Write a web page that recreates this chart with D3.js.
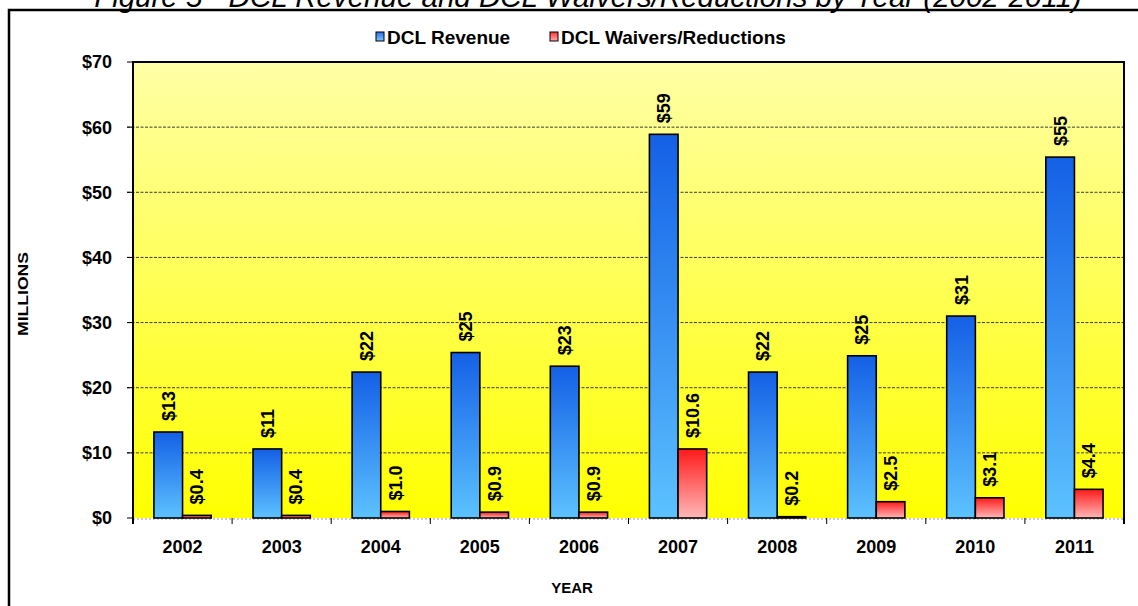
<!DOCTYPE html>
<html>
<head>
<meta charset="utf-8">
<script src="https://cdn.jsdelivr.net/npm/d3@7"></script>
<style>
  html, body { margin: 0; padding: 0; background: #fff; }
  svg { display: block; font-family: Arial, "Liberation Sans", sans-serif; }
</style>
</head>
<body>
<svg id="chart" width="1138" height="606"></svg>
<script>
const years = ["2002","2003","2004","2005","2006","2007","2008","2009","2010","2011"];
const seriesNames = ["DCL Revenue", "DCL Waivers/Reductions"];
const revenue = [13.2, 10.6, 22.4, 25.4, 23.3, 58.9, 22.4, 24.9, 31.0, 55.4];
const waivers = [0.4, 0.4, 1.0, 0.9, 0.9, 10.6, 0.2, 2.5, 3.1, 4.4];
const yTicks = [0, 10, 20, 30, 40, 50, 60, 70];
const titleText = "Figure 5 - DCL Revenue and DCL Waivers/Reductions by Year (2002-2011)";

(function () {
const svg = d3.select("#chart");
const defs = svg.append("defs");

function vGrad(id, c1, c2) {
  const g = defs.append("linearGradient").attr("id", id)
    .attr("x1", 0).attr("y1", 0).attr("x2", 0).attr("y2", 1);
  g.append("stop").attr("offset", "0%").attr("stop-color", c1);
  g.append("stop").attr("offset", "100%").attr("stop-color", c2);
}
vGrad("bgGrad", "#ffffa6", "#ffff00");
vGrad("blueGrad", "#1460e6", "#5cc2ff");
vGrad("redGrad", "#ff1a1a", "#ffb8b8");
vGrad("blueSw", "#2a6fe8", "#7cc8ff");
vGrad("redSw", "#ff3030", "#ffb0b0");

const pL = 133, pR = 1124, pT = 62, pB = 518;

// Title (cut off at top, as in the reference)
svg.append("text").attr("x", 588).attr("y", 7)
  .attr("text-anchor", "middle").attr("font-size", 29.5).attr("font-style", "italic")
  .text(titleText);

// Outer frame
svg.append("rect").attr("x", 9).attr("y", 10).attr("width", 1145).attr("height", 610)
  .attr("fill", "none").attr("stroke", "#000").attr("stroke-width", 2.5);

const x0 = d3.scaleBand().domain(years).range([pL, pR]).padding(0);
const x1 = d3.scaleBand().domain(seriesNames)
  .range([x0.bandwidth() * 0.211, x0.bandwidth() * 0.789]).padding(0);
const y = d3.scaleLinear().domain([0, 70]).range([pB, pT]);

// Plot background
svg.append("rect").attr("x", pL).attr("y", pT)
  .attr("width", pR - pL).attr("height", pB - pT)
  .attr("fill", "url(#bgGrad)");

// Gridlines
svg.append("g").selectAll("line").data(yTicks.filter(d => d > 0 && d < 70)).join("line")
  .attr("x1", pL - 6).attr("x2", pR)
  .attr("y1", d => y(d)).attr("y2", d => y(d))
  .attr("stroke", "#3a3a3a").attr("stroke-width", 1).attr("stroke-dasharray", "3,1.5");

// Y tick marks and labels
svg.append("g").selectAll("line").data(yTicks).join("line")
  .attr("x1", pL - 6).attr("x2", pL)
  .attr("y1", d => y(d)).attr("y2", d => y(d))
  .attr("stroke", "#000").attr("stroke-width", 1);
svg.append("g").selectAll("text").data(yTicks).join("text")
  .attr("x", 112).attr("y", d => y(d)).attr("dy", "0.36em")
  .attr("text-anchor", "end").attr("font-size", 18).attr("font-weight", "bold")
  .text(d => "$" + d);

// bottom baseline (faint)
svg.append("line").attr("x1", pL).attr("x2", pR).attr("y1", pB + 1).attr("y2", pB + 1)
  .attr("stroke", "#999").attr("stroke-width", 1).attr("stroke-dasharray", "2,2");

// X tick marks at band boundaries
const boundaries = years.map(d => x0(d)).concat([x0(years[years.length - 1]) + x0.bandwidth()]);
svg.append("g").selectAll("line").data(boundaries).join("line")
  .attr("x1", d => d).attr("x2", d => d)
  .attr("y1", pB).attr("y2", pB + 6)
  .attr("stroke", "#000").attr("stroke-width", 1);

// X labels
svg.append("g").selectAll("text").data(years).join("text")
  .attr("x", d => x0(d) + x0.bandwidth() / 2).attr("y", 553)
  .attr("text-anchor", "middle").attr("font-size", 18).attr("font-weight", "bold")
  .text(d => d);

// Bars
const rows = years.map((yr, i) => ({ year: yr, vals: [
  { s: seriesNames[0], v: revenue[i], fill: "url(#blueGrad)", label: "$" + Math.round(revenue[i]) },
  { s: seriesNames[1], v: waivers[i], fill: "url(#redGrad)", label: "$" + waivers[i].toFixed(1) }
]}));

const groups = svg.append("g").selectAll("g").data(rows).join("g")
  .attr("transform", d => `translate(${x0(d.year)},0)`);

groups.selectAll("rect").data(d => d.vals).join("rect")
  .attr("x", d => x1(d.s)).attr("width", x1.bandwidth())
  .attr("y", d => y(d.v)).attr("height", d => y(0) - y(d.v))
  .attr("fill", d => d.fill).attr("stroke", "#000").attr("stroke-width", 1.6);

groups.selectAll("text").data(d => d.vals).join("text")
  .attr("transform", d => `translate(${x1(d.s) + x1.bandwidth() / 2},${y(d.v) - 11}) rotate(-90)`)
  .attr("dy", "0.36em").attr("text-anchor", "start")
  .attr("font-size", 18).attr("font-weight", "bold")
  .text(d => d.label);

// Plot border (top, left, right)
svg.append("path")
  .attr("d", `M${pL},${pB + 6}V${pT}H${pR}V${pB + 6}`)
  .attr("fill", "none").attr("stroke", "#000").attr("stroke-width", 2);

// Axis titles
svg.append("text").attr("x", 572).attr("y", 593)
  .attr("text-anchor", "middle").attr("font-size", 15).attr("font-weight", "bold")
  .text("YEAR");
svg.append("text").attr("transform", "translate(22,294) rotate(-90)")
  .attr("dy", "0.36em").attr("text-anchor", "middle")
  .attr("font-size", 15.5).attr("font-weight", "bold")
  .attr("textLength", 84).attr("lengthAdjust", "spacingAndGlyphs")
  .text("MILLIONS");

// Legend
const legendItems = [
  { name: seriesNames[0], fill: "url(#blueSw)", x: 376 },
  { name: seriesNames[1], fill: "url(#redSw)", x: 550 }
];
const lg = svg.append("g").selectAll("g").data(legendItems).join("g")
  .attr("transform", d => `translate(${d.x},0)`);
lg.append("rect").attr("x", 0).attr("y", 32).attr("width", 8).attr("height", 9)
  .attr("fill", d => d.fill).attr("stroke", "#000").attr("stroke-width", 1);
lg.append("text").attr("x", 11).attr("y", 44)
  .attr("font-size", 19).attr("font-weight", "bold")
  .text(d => d.name);
})();
</script>
</body>
</html>
